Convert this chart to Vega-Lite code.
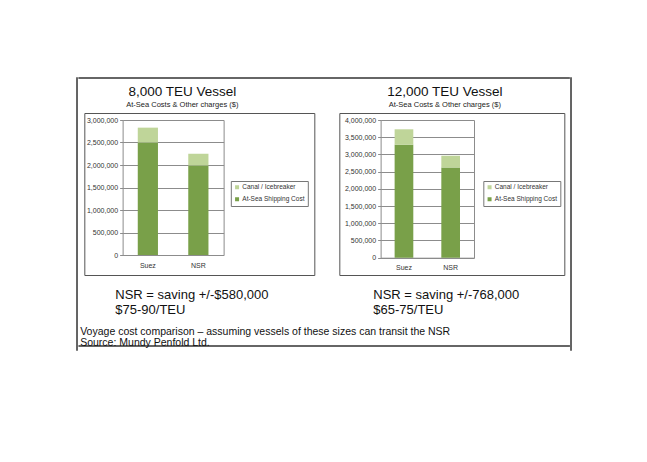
{
  "$schema": "https://vega.github.io/schema/vega-lite/v6.json",
  "padding": {"left": 76, "top": 77, "right": 5, "bottom": 5},
  "autosize": {"type": "pad"},
  "background": "white",
  "datasets": {
    "costs": [
      {"vessel": "8,000 TEU", "route": "Suez", "component": "At-Sea Shipping Cost", "cost": 2500000},
      {"vessel": "8,000 TEU", "route": "Suez", "component": "Canal / Icebreaker", "cost": 330000},
      {"vessel": "8,000 TEU", "route": "NSR", "component": "At-Sea Shipping Cost", "cost": 1990000},
      {"vessel": "8,000 TEU", "route": "NSR", "component": "Canal / Icebreaker", "cost": 260000},
      {"vessel": "12,000 TEU", "route": "Suez", "component": "At-Sea Shipping Cost", "cost": 3280000},
      {"vessel": "12,000 TEU", "route": "Suez", "component": "Canal / Icebreaker", "cost": 450000},
      {"vessel": "12,000 TEU", "route": "NSR", "component": "At-Sea Shipping Cost", "cost": 2620000},
      {"vessel": "12,000 TEU", "route": "NSR", "component": "Canal / Icebreaker", "cost": 342000}
    ],
    "blank": []
  },
  "spacing": 0,
  "hconcat": [
    {
      "width": 0.01, "height": 272,
      "view": {"stroke": "#333", "strokeWidth": 1.5},
      "data": {"name": "blank"},
      "mark": {"type": "text"},
      "encoding": {"text": {"value": ""}}
    },
    {
      "spacing": 5,
      "center": true,
      "vconcat": [
        {
          "width": 490, "height": 0.01,
          "view": {"stroke": "#333", "strokeWidth": 1.5},
          "data": {"name": "blank"},
          "mark": {"type": "text"},
          "encoding": {"text": {"value": ""}}
        },
        {
          "spacing": 8,
          "center": true,
          "vconcat": [
            {
              "spacing": 23,
              "resolve": {
                "scale": {"x": "independent", "y": "independent", "color": "independent"},
                "legend": {"color": "independent"}
              },
              "hconcat": [
                {
                  "width": 230,
                  "height": 162,
                  "view": {"stroke": "#555", "strokeWidth": 1},
                  "data": {"name": "costs"},
                  "transform": [{"filter": "datum.vessel === '8,000 TEU'"}],
                  "title": {
                    "text": "8,000 TEU Vessel",
                    "subtitle": "At-Sea Costs & Other charges ($)",
                    "anchor": "middle", "dx": -17, "offset": 5,
                    "fontSize": 13.5, "fontWeight": "normal", "color": "#111",
                    "subtitleFontSize": 7.5, "subtitleColor": "#222", "subtitlePadding": 2
                  },
                  "layer": [
                    {
                      "mark": {"type": "bar"},
                      "encoding": {
                        "x": {
                          "field": "route", "type": "nominal", "sort": ["Suez", "NSR"],
                          "scale": {"range": [38.3, 139.3], "paddingInner": 0.6, "paddingOuter": 0.3},
                          "axis": {
                            "orient": "bottom", "offset": -20, "labelAngle": 0, "labelFontSize": 7, "labelColor": "#333",
                            "ticks": false, "labelPadding": 6, "domainColor": "#8c8c8c",
                            "title": ["NSR = saving +/-$580,000", "$75-90/TEU"],
                            "titleX": 30.5, "titleY": 43.5, "titleAlign": "left", "titleBaseline": "alphabetic",
                            "titleFontSize": 13, "titleFontWeight": "normal", "titleColor": "#111", "titleLineHeight": 14.5
                          }
                        },
                        "y": {
                          "field": "cost", "type": "quantitative", "stack": "zero",
                          "scale": {"domain": [0, 3000000], "range": [142, 7], "nice": false},
                          "axis": {
                            "orient": "left", "offset": -38.3, "values": [0, 500000, 1000000, 1500000, 2000000, 2500000, 3000000],
                            "format": ",.0f", "labelFontSize": 7, "labelColor": "#333", "tickSize": 3, "labelPadding": 2,
                            "tickColor": "#8c8c8c", "domainColor": "#8c8c8c", "gridColor": "#8c8c8c", "grid": true, "title": null
                          }
                        },
                        "color": {
                          "field": "component", "type": "nominal",
                          "scale": {"domain": ["Canal / Icebreaker", "At-Sea Shipping Cost"], "range": ["#bfd599", "#79a049"]},
                          "legend": {
                            "title": null, "orient": "none", "legendX": 146.5, "legendY": 68,
                            "strokeColor": "#777", "fillColor": "white", "padding": 3, "labelFontSize": 6.5, "labelColor": "#333",
                            "symbolType": "square", "symbolSize": 16, "rowPadding": 5, "labelOffset": 2, "symbolStrokeWidth": 0
                          }
                        },
                        "order": {"field": "component", "sort": "ascending"}
                      }
                    },
                    {
                      "mark": {"type": "rule", "opacity": 0},
                      "encoding": {
                        "y": {
                          "datum": 0, "type": "quantitative",
                          "axis": {"orient": "right", "offset": -90.7, "labels": false, "ticks": false, "grid": false, "domainColor": "#8c8c8c", "title": null}
                        }
                      }
                    }
                  ],
                  "resolve": {"axis": {"y": "independent"}}
                },
                {
                  "width": 225,
                  "height": 162,
                  "view": {"stroke": "#555", "strokeWidth": 1},
                  "data": {"name": "costs"},
                  "transform": [{"filter": "datum.vessel === '12,000 TEU'"}],
                  "title": {
                    "text": "12,000 TEU Vessel",
                    "subtitle": "At-Sea Costs & Other charges ($)",
                    "anchor": "middle", "dx": -7, "offset": 5,
                    "fontSize": 13.5, "fontWeight": "normal", "color": "#111",
                    "subtitleFontSize": 7.5, "subtitleColor": "#222", "subtitlePadding": 2
                  },
                  "layer": [
                    {
                      "mark": {"type": "bar"},
                      "encoding": {
                        "x": {
                          "field": "route", "type": "nominal", "sort": ["Suez", "NSR"],
                          "scale": {"range": [41.3, 134.7], "paddingInner": 0.6, "paddingOuter": 0.3},
                          "axis": {
                            "orient": "bottom", "offset": -17.3, "labelAngle": 0, "labelFontSize": 7, "labelColor": "#333",
                            "ticks": false, "labelPadding": 6, "domainColor": "#8c8c8c",
                            "title": ["NSR = saving +/-768,000", "$65-75/TEU"],
                            "titleX": 33.5, "titleY": 40.8, "titleAlign": "left", "titleBaseline": "alphabetic",
                            "titleFontSize": 13, "titleFontWeight": "normal", "titleColor": "#111", "titleLineHeight": 14.5
                          }
                        },
                        "y": {
                          "field": "cost", "type": "quantitative", "stack": "zero",
                          "scale": {"domain": [0, 4000000], "range": [144.7, 7], "nice": false},
                          "axis": {
                            "orient": "left", "offset": -41.3, "values": [0, 500000, 1000000, 1500000, 2000000, 2500000, 3000000, 3500000, 4000000],
                            "format": ",.0f", "labelFontSize": 7, "labelColor": "#333", "tickSize": 3, "labelPadding": 2,
                            "tickColor": "#8c8c8c", "domainColor": "#8c8c8c", "gridColor": "#8c8c8c", "grid": true, "title": null
                          }
                        },
                        "color": {
                          "field": "component", "type": "nominal",
                          "scale": {"domain": ["Canal / Icebreaker", "At-Sea Shipping Cost"], "range": ["#bfd599", "#79a049"]},
                          "legend": {
                            "title": null, "orient": "none", "legendX": 144, "legendY": 68,
                            "strokeColor": "#777", "fillColor": "white", "padding": 3, "labelFontSize": 6.5, "labelColor": "#333",
                            "symbolType": "square", "symbolSize": 16, "rowPadding": 5, "labelOffset": 2, "symbolStrokeWidth": 0
                          }
                        },
                        "order": {"field": "component", "sort": "ascending"}
                      }
                    },
                    {
                      "mark": {"type": "rule", "opacity": 0},
                      "encoding": {
                        "y": {
                          "datum": 0, "type": "quantitative",
                          "axis": {"orient": "right", "offset": -90.3, "labels": false, "ticks": false, "grid": false, "domainColor": "#8c8c8c", "title": null}
                        }
                      }
                    }
                  ],
                  "resolve": {"axis": {"y": "independent"}}
                }
              ]
            },
            {
              "width": 490, "height": 0.01,
              "view": {"stroke": "#333", "strokeWidth": 1.5},
              "data": {"name": "blank"},
              "mark": {"type": "text"},
              "encoding": {"text": {"value": ""}},
              "title": {
                "text": ["Voyage cost comparison – assuming vessels of these sizes can transit the NSR", "Source:  Mundy Penfold Ltd."],
                "orient": "top", "anchor": "start", "offset": -2, "dx": 1,
                "fontSize": 10.5, "fontWeight": "normal", "lineHeight": 11, "color": "#111"
              }
            }
          ]
        }
      ]
    },
    {
      "width": 0.01, "height": 272,
      "view": {"stroke": "#333", "strokeWidth": 1.5},
      "data": {"name": "blank"},
      "mark": {"type": "text"},
      "encoding": {"text": {"value": ""}}
    }
  ],
  "config": {
    "font": "Liberation Sans",
    "axis": {"labelFont": "Liberation Sans", "titleFont": "Liberation Sans", "gridWidth": 1, "domainWidth": 1},
    "legend": {"labelFont": "Liberation Sans"},
    "title": {"font": "Liberation Sans", "subtitleFont": "Liberation Sans"}
  }
}
